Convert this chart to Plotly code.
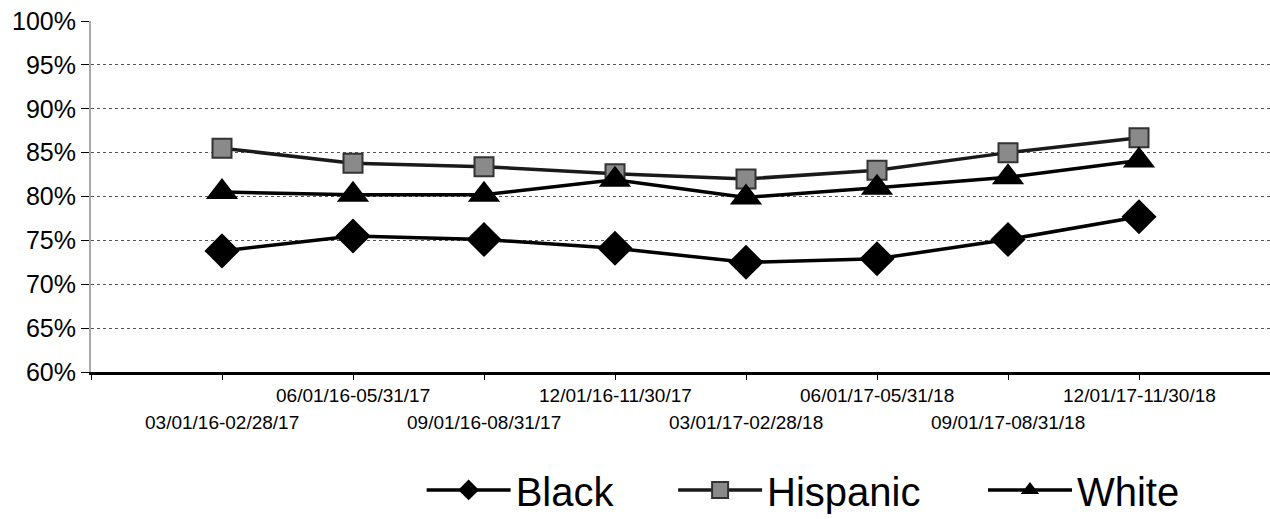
import plotly.graph_objects as go

periods = ["03/01/16-02/28/17", "06/01/16-05/31/17", "09/01/16-08/31/17", "12/01/16-11/30/17",
           "03/01/17-02/28/18", "06/01/17-05/31/18", "09/01/17-08/31/18", "12/01/17-11/30/18"]
black = [73.8, 75.5, 75.1, 74.1, 72.5, 72.9, 75.1, 77.7]
hispanic = [85.5, 83.8, 83.4, 82.6, 82.0, 83.0, 85.0, 86.7]
white = [80.5, 80.2, 80.2, 81.9, 79.9, 81.0, 82.2, 84.1]
y_ticks = [60, 65, 70, 75, 80, 85, 90, 95, 100]

FONT = "Liberation Sans, Arial, sans-serif"
xs = list(range(len(periods)))

fig = go.Figure()
fig.add_trace(go.Scatter(x=xs, y=black, name="Black", mode="lines+markers", legend="legend",
                         line=dict(color="black", width=3.5),
                         marker=dict(symbol="diamond", size=27, color="black")))
fig.add_trace(go.Scatter(x=xs, y=hispanic, name="Hispanic", mode="lines+markers", legend="legend2",
                         line=dict(color="#1a1a1a", width=3.5),
                         marker=dict(symbol="square", size=19, color="#8a8a8a",
                                     line=dict(color="#333333", width=2))))
fig.add_trace(go.Scatter(x=xs, y=white, name="White", mode="lines+markers", legend="legend3",
                         line=dict(color="black", width=3.5),
                         marker=dict(symbol="triangle-up", size=28, color="black")))

for i, p in enumerate(periods):
    fig.add_annotation(x=i, xref="x", y=-0.067 if i % 2 else -0.144, yref="paper",
                       text=p, showarrow=False, yanchor="middle",
                       font=dict(family=FONT, size=19, color="black"))

def legend_box(xpos):
    return dict(orientation="h", xref="container", yref="container",
                x=xpos, xanchor="left", y=0.056, yanchor="middle",
                font=dict(family=FONT, size=40, color="black"), itemwidth=84,
                bgcolor="rgba(0,0,0,0)")

fig.update_layout(
    width=1270, height=519,
    margin=dict(l=91, r=0, t=21, b=147, autoexpand=False),
    paper_bgcolor="white", plot_bgcolor="white",
    font=dict(family=FONT, color="black"),
    showlegend=True,
    legend=legend_box(0.332),
    legend2=legend_box(0.530),
    legend3=legend_box(0.774),
)
fig.update_xaxes(range=[-1, 8], tickvals=list(range(-1, len(periods))),
                 showticklabels=False, ticks="outside", ticklen=5, tickcolor="black",
                 showgrid=False, showline=True, linecolor="black", linewidth=3,
                 zeroline=False)
fig.update_yaxes(range=[60, 100], tickvals=y_ticks,
                 ticktext=[f"{v}%" for v in y_ticks],
                 tickfont=dict(family=FONT, size=25, color="black"),
                 ticks="outside", ticklen=8, tickcolor="black",
                 showgrid=True, gridcolor="#555555", griddash="dot", gridwidth=1,
                 showline=True, linecolor="#aaaaaa", linewidth=2, zeroline=False)

fig.write_html("out.html", config={"displayModeBar": False},
               post_script="document.body.style.margin='0';")
